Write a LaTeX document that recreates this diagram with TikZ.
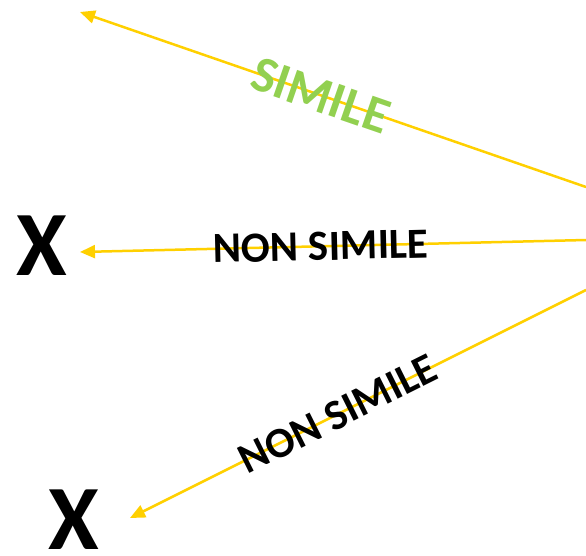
\documentclass[tikz,border=0pt]{standalone}
\usepackage{fontspec}
\setmainfont{Carlito}
\usetikzlibrary{arrows.meta}
\definecolor{arrowgold}{RGB}{255,208,0}
\definecolor{leafgreen}{RGB}{146,208,80}
\tikzset{
  link/.style={draw=arrowgold, line width=2.5pt, -{Triangle[length=15pt,width=13pt]}},
  tag/.style={font=\fontsize{43}{50}\selectfont\bfseries, inner sep=0pt, sloped},
  bigtag/.style={tag, font=\fontsize{51}{58}\selectfont\bfseries},
  cross/.style={font=\fontsize{92}{100}\selectfont\bfseries, inner sep=0pt}
}
\begin{document}
\begin{tikzpicture}[x=1pt,y=-1pt]
  \useasboundingbox (0,0) rectangle (586,555);
  % start points on the right border and arrow tips on the left
  \coordinate (s1) at (586,187);
  \coordinate (s2) at (586,240);
  \coordinate (s3) at (586,290);
  \coordinate (t1) at (80,12);
  \coordinate (t2) at (80,252);
  \coordinate (t3) at (130,518);
  % rejected targets
  \node[cross] (x1) at (42,246) {X};
  \node[cross] (x2) at (74,520) {X};
  % arrows with their verdicts
  \draw[link] (s1) -- node[bigtag, text=leafgreen, pos=0.524] (lab1) {SIMILE} (t1);
  \draw[link] (s2) -- node[tag, text=black, pos=0.524] (lab2) {NON SIMILE} (t2);
  \draw[link] (s3) -- node[tag, text=black, pos=0.544] (lab3) {NON SIMILE} (t3);
\end{tikzpicture}
\end{document}
